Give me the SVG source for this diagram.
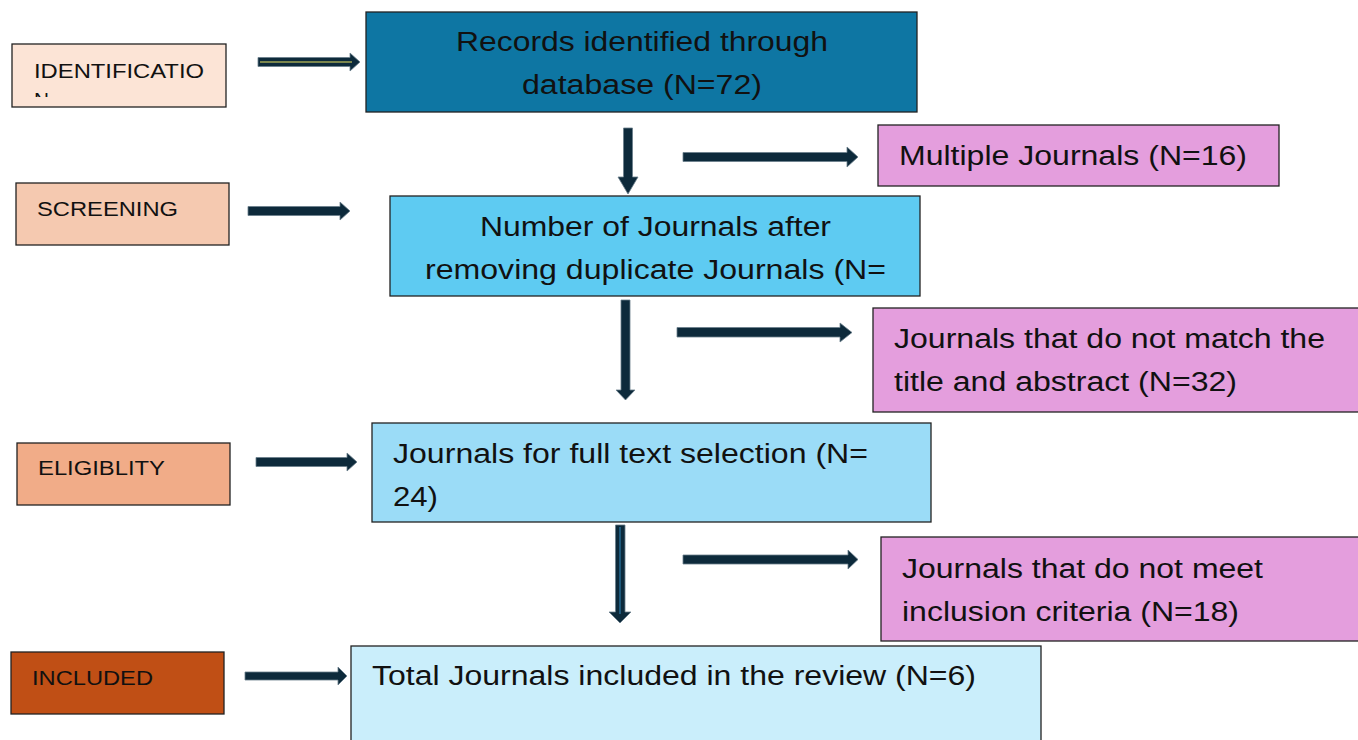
<svg xmlns="http://www.w3.org/2000/svg" width="1358" height="740" viewBox="0 0 1358 740">
<style>
.box{stroke:#222;stroke-width:1.3}
.lbl{font-family:"Liberation Sans",Arial,sans-serif;font-size:20px;fill:#111}
.txt{font-family:"Liberation Sans",Arial,sans-serif;font-size:27px;fill:#111}
.arr{fill:#0d2a3b;stroke:#6b7f8c;stroke-width:0.8}
</style>
<defs>
<clipPath id="clipId"><rect x="12" y="44" width="214" height="53"/></clipPath>
</defs>
<rect width="1358" height="740" fill="#ffffff"/>

<g id="identification">
<rect class="box" x="12" y="44" width="214" height="63" fill="#fce4d6"/>
<g clip-path="url(#clipId)">
<text class="lbl" x="34" y="78" textLength="170" lengthAdjust="spacingAndGlyphs">IDENTIFICATIO</text>
<text class="lbl" x="34" y="107" textLength="15" lengthAdjust="spacingAndGlyphs">N</text>
</g>
</g>
<g id="screening">
<rect class="box" x="16" y="183" width="213" height="62" fill="#f5c9b0"/>
<text class="lbl" x="37" y="216" textLength="141" lengthAdjust="spacingAndGlyphs">SCREENING</text>
</g>
<g id="eligibility">
<rect class="box" x="17" y="443" width="213" height="62" fill="#f1ac88"/>
<text class="lbl" x="38" y="475" textLength="127" lengthAdjust="spacingAndGlyphs">ELIGIBLITY</text>
</g>
<g id="included">
<rect class="box" x="11" y="652" width="213" height="62" fill="#c04f15"/>
<text class="lbl" x="32" y="685" textLength="121" lengthAdjust="spacingAndGlyphs">INCLUDED</text>
</g>

<g id="records">
<rect class="box" x="366" y="12" width="551" height="100" fill="#0e76a3"/>
<text class="txt" x="456" y="51" textLength="372" lengthAdjust="spacingAndGlyphs">Records identified through</text>
<text class="txt" x="522" y="94" textLength="240" lengthAdjust="spacingAndGlyphs">database (N=72)</text>
</g>
<g id="multiple">
<rect class="box" x="878" y="125" width="401" height="61" fill="#e49edd"/>
<text class="txt" x="899" y="165" textLength="348" lengthAdjust="spacingAndGlyphs">Multiple Journals (N=16)</text>
</g>
<g id="afterdup">
<rect class="box" x="390" y="196" width="530" height="100" fill="#5ecbf2"/>
<text class="txt" x="480" y="236" textLength="351" lengthAdjust="spacingAndGlyphs">Number of Journals after</text>
<text class="txt" x="425" y="279" textLength="461" lengthAdjust="spacingAndGlyphs">removing duplicate Journals (N=</text>
</g>
<g id="nomatch">
<rect class="box" x="873" y="308" width="490" height="104" fill="#e49edd"/>
<text class="txt" x="894" y="348" textLength="431" lengthAdjust="spacingAndGlyphs">Journals that do not match the</text>
<text class="txt" x="894" y="391" textLength="343" lengthAdjust="spacingAndGlyphs">title and abstract (N=32)</text>
</g>
<g id="fulltext">
<rect class="box" x="372" y="423" width="559" height="99" fill="#9bdcf7"/>
<text class="txt" x="393" y="463" textLength="475" lengthAdjust="spacingAndGlyphs">Journals for full text selection (N=</text>
<text class="txt" x="393" y="506" textLength="45" lengthAdjust="spacingAndGlyphs">24)</text>
</g>
<g id="notmeet">
<rect class="box" x="881" y="537" width="482" height="104" fill="#e49edd"/>
<text class="txt" x="902" y="578" textLength="361" lengthAdjust="spacingAndGlyphs">Journals that do not meet</text>
<text class="txt" x="902" y="621" textLength="337" lengthAdjust="spacingAndGlyphs">inclusion criteria (N=18)</text>
</g>
<g id="total">
<rect class="box" x="351" y="646" width="690" height="100" fill="#caeefb"/>
<text class="txt" x="372" y="685" textLength="604" lengthAdjust="spacingAndGlyphs">Total Journals included in the review (N=6)</text>
</g>

<g id="connectors">
<polygon class="arr" points="258,57.5 350,57.5 350,53 360,62 350,71 350,66.5 258,66.5"/>
<line x1="260" y1="62" x2="352" y2="62" stroke="#e8e060" stroke-width="1.2"/>
<polygon class="arr" points="248,206.5 340,206.5 340,202 350,211 340,220 340,215.5 248,215.5"/>
<polygon class="arr" points="256,457.5 347,457.5 347,453 357,462 347,471 347,466.5 256,466.5"/>
<polygon class="arr" points="245,672 338,672 338,667 347,676 338,685 338,680 245,680"/>

<polygon class="arr" points="623.5,128 632.5,128 632.5,177 638,177 628,194 618,177 623.5,177"/>
<polygon class="arr" points="683,152.5 847,152.5 847,147 858,157 847,167 847,161.5 683,161.5"/>

<polygon class="arr" points="621,300 630,300 630,390 635,390 625.5,400 616,390 621,390"/>
<polygon class="arr" points="677,327.5 840,327.5 840,323 852,332.5 840,342 840,337 677,337"/>

<polygon class="arr" points="615.5,525 625,525 625,612 631,612 620,623 609,612 615.5,612"/>
<line x1="620" y1="527" x2="620" y2="614" stroke="#2a7aa8" stroke-width="1.2"/>
<polygon class="arr" points="683,555 848,555 848,550 858,559.5 848,569 848,564 683,564"/>
</g>
</svg>
